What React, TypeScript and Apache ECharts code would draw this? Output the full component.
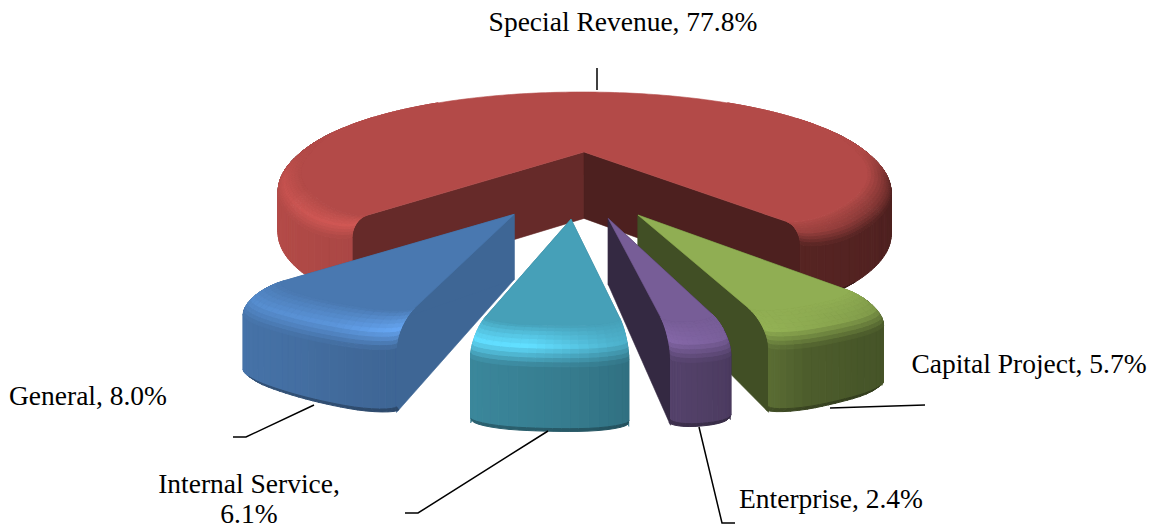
import React, { useEffect, useRef } from "react";
import * as echarts from "echarts";

// Fund shares, listed clockwise from the large slice
const categories = ["Special Revenue", "Capital Project", "Enterprise", "Internal Service", "General"];
const shares = [77.8, 5.7, 2.4, 6.1, 8.0];
const baseColors = ["#C0504D", "#9BBB59", "#8064A2", "#4BACC6", "#4F81BD"];

// Back to front: later slices overlap earlier ones
const paintOrder = [0, 4, 1, 2, 3];

// Label placement: centre x, centre y, wrapped onto two lines or not
const labelLayout = [
  { x: 623, y: 21, wrap: false },
  { x: 1029, y: 363, wrap: false },
  { x: 831, y: 498, wrap: false },
  { x: 249, y: 498, wrap: true },
  { x: 88, y: 395, wrap: false },
];
const leaderLines = [
  [[597, 68], [597, 90]],
  [[925, 405], [830, 408]],
  [[735, 523], [722, 523], [699, 427]],
  [[405, 513], [418, 513], [548, 431]],
  [[233, 437], [246, 437], [314, 405]],
];

// Camera, with the origin on the point of the large slice
const CX = 577;
const APEX_Y = 152;
const DEPTH = 3.28;
const TILT_W = 0.964;
const F_Y = 254.7;
const F_Z = 926;
const F_X = 961;

// Solid proportions for the large slice and for the pulled-out ones
const START_ANGLE = -137.5;
const EXPLODE = 0.345;
const mainSolid = { rx: 1, ry: 1, flat: 0.93, bevel: 0.05, h: 0.235, hOuter: 0.195, cornerDeg: 10, rimCut: 0.06, flatCut: 0.04, footCut: 0.06 };
const sideSolid = { rx: 0.865, ry: 0.74, flat: 0.89, bevel: 0.048, h: 0.187, hOuter: 0.187, cornerDeg: 7, rimCut: 0.03, flatCut: 0.04, footCut: 0.03 };

// Small extra turn (degrees) and sideways shift of each slice in its own plane
const sliceTurns = [0, 1.2, 1.2, 0, 0];
const sliceShifts = [0.0085, 0.017, 0.017, 0, -0.011];

// Wall brightness at the first and last clockwise cut of each slice
const wallTones = [
  [0.53, 0.4],
  [0.42, 0.42],
  [0.41, 0.41],
  [0.7, 0.7],
  [0.79, 0.79],
];
const TOP_TONE = 0.93;

const rad = (d: number) => (d * Math.PI) / 180;

function lookup(stops: number[][], v: number) {
  if (v <= stops[0][0]) return stops[0][1];
  for (let i = 1; i < stops.length; i++) {
    if (v <= stops[i][0]) {
      const t = (v - stops[i - 1][0]) / (stops[i][0] - stops[i - 1][0]);
      return stops[i - 1][1] + t * (stops[i][1] - stops[i - 1][1]);
    }
  }
  return stops[stops.length - 1][1];
}

const sideStops = [[-1, 0.95], [-0.5, 0.86], [0, 0.72], [0.25, 0.6], [0.35, 0.5], [0.5, 0.46], [1, 0.4]];
const glowStops = [[-1, 1.02], [-0.7, 1.08], [-0.4, 1.15], [-0.25, 1.28], [-0.1, 1.3], [0.1, 1.05], [0.25, 0.96], [0.5, 0.86], [1, 0.62]];

function shade(hex: string, m: number) {
  const n = parseInt(hex.slice(1), 16);
  const ch = [(n >> 16) & 255, (n >> 8) & 255, n & 255].map((c) => Math.min(255, Math.round(c * m)));
  return `rgb(${ch[0]},${ch[1]},${ch[2]})`;
}

function project(x: number, y: number, z: number): number[] {
  const yy = y - EXPLODE;
  const w = DEPTH + TILT_W * yy;
  return [CX + (F_X * x) / w, APEX_Y - (F_Y * yy + F_Z * z) / w];
}

function signedArea(points: number[][]) {
  let a = 0;
  for (let i = 0; i < points.length; i++) {
    const p = points[i];
    const q = points[(i + 1) % points.length];
    a += p[0] * q[1] - q[0] * p[1];
  }
  return a;
}

function wedgeSpans() {
  let a = START_ANGLE;
  return shares.map((s, i) => {
    const span = (s / 100) * 360;
    const out = { start: a + sliceTurns[i], end: a + span + sliceTurns[i] };
    a += span;
    return out;
  });
}

function buildSlice(index: number) {
  const { start, end } = wedgeSpans()[index];
  const solid = index === 0 ? mainSolid : sideSolid;
  const mid = (start + end) / 2;
  const color = baseColors[index];
  const ox = EXPLODE * Math.sin(rad(mid)) + sliceShifts[index];
  const oy = EXPLODE * Math.cos(rad(mid));
  const span = end - start;
  const corner = Math.min(solid.cornerDeg, span * 0.46);

  // Angular samples: dense close to the rounded corners
  const samples: number[] = [];
  const cornerSteps = 8;
  for (let i = 0; i < cornerSteps; i++) samples.push(start + corner * (1 - Math.cos(rad((90 * i) / cornerSteps))));
  const midStart = start + corner;
  const midEnd = end - corner;
  const midCount = Math.max(1, Math.ceil((midEnd - midStart) / 1.25));
  for (let i = 0; i <= midCount; i++) samples.push(midStart + ((midEnd - midStart) * i) / midCount);
  for (let i = cornerSteps - 1; i >= 0; i--) samples.push(end - corner * (1 - Math.cos(rad((90 * i) / cornerSteps))));

  const cut = (theta: number, depth: number) => {
    const d = Math.min(theta - start, end - theta);
    if (d >= corner) return 1;
    const u = 1 - d / corner;
    return 1 - depth * (1 - Math.sqrt(Math.max(0, 1 - u * u)));
  };

  const place = (theta: number, r: number, z: number) =>
    project(ox + solid.rx * r * Math.sin(rad(theta)), oy + solid.ry * r * Math.cos(rad(theta)), z);

  // The flat top reaches the rim at the far side of the solid
  const flatAt = (theta: number) => solid.flat + (1 - solid.flat) * Math.max(0, Math.cos(rad(theta)));

  // A point of the bevel at a level (0 = flat top edge, 1 = rim)
  const ringPoint = (theta: number, level: number, z: number) => {
    const flatR = flatAt(theta) * cut(theta, solid.flatCut);
    const rimR = cut(theta, solid.rimCut);
    return place(theta, flatR + (rimR - flatR) * Math.sin((level * Math.PI) / 2), z);
  };
  const footPoint = (theta: number, z: number, shrink = 1) => place(theta, cut(theta, solid.footCut) * shrink, z);

  const LEVELS = 10;
  const levelZ = (l: number) => -solid.bevel * (1 - Math.cos((l * Math.PI) / 2));

  const under: any[] = [];
  const walls: any[] = [];
  const faces: any[] = [];
  const poly = (layer: any[], points: number[][], fill: string, lineWidth = 1) =>
    layer.push({ type: "polygon", silent: true, shape: { points }, style: { fill, stroke: fill, lineWidth } });
  const nearWallFill = (theta: number) =>
    shade(color, wallTones[index][theta - start < end - theta ? 0 : 1]);
  // Faces turned away from the viewer only backfill the corners
  const facePoly = (points: number[][], fill: string, theta: number) => {
    if (signedArea(points) < 0) poly(faces, points, fill);
    else if (Math.cos(rad(theta)) < 0.3) poly(under, points, nearWallFill(theta));
  };

  const apexTop = project(ox, oy, 0);
  const apexLow = project(ox, oy, -solid.h);
  const footZ = -solid.hOuter;
  const edgeZ = footZ + 0.012;

  // Cut walls, following the rounded profile of the bevel
  [start, end].forEach((theta, k) => {
    const profile: number[][] = [];
    for (let l = 0; l <= LEVELS; l++) profile.push(ringPoint(theta, l / LEVELS, levelZ(l / LEVELS)));
    poly(
      walls,
      [apexTop, ...profile, footPoint(theta, footZ), apexLow],
      shade(color, wallTones[index][k]),
      0.6,
    );
  });

  // Outer side
  for (let i = 0; i < samples.length - 1; i++) {
    const a = samples[i];
    const b = samples[i + 1];
    const m = (a + b) / 2;
    const tone = lookup(sideStops, Math.sin(rad(m)));
    facePoly(
      [ringPoint(a, 1, -solid.bevel), ringPoint(b, 1, -solid.bevel), footPoint(b, edgeZ), footPoint(a, edgeZ)],
      shade(color, tone),
      m,
    );
    const rimBand = [footPoint(a, edgeZ), footPoint(b, edgeZ), footPoint(b, footZ, 0.985), footPoint(a, footZ, 0.985)];
    if (signedArea(rimBand) < 0) poly(faces, rimBand, shade(color, tone * 0.72));
  }

  // Rounded bevel between the flat top and the side
  for (let i = 0; i < samples.length - 1; i++) {
    const a = samples[i];
    const b = samples[i + 1];
    const m = (a + b) / 2;
    const s = Math.sin(rad(m));
    const c = Math.cos(rad(m));
    const facing = Math.min(1, Math.max(0, (0.05 - c) / 0.3));
    const side = lookup(sideStops, s);
    const glow = TOP_TONE + (lookup(glowStops, s) - TOP_TONE) * facing;
    const rimTone = TOP_TONE + (side - TOP_TONE) * facing;
    for (let l = 0; l < LEVELS; l++) {
      const l0 = l / LEVELS;
      const l1 = (l + 1) / LEVELS;
      const lc = (l0 + l1) / 2;
      const tone = lc < 0.55 ? TOP_TONE + (glow - TOP_TONE) * (lc / 0.55) : glow + (rimTone - glow) * ((lc - 0.55) / 0.45);
      facePoly(
        [ringPoint(a, l0, levelZ(l0)), ringPoint(b, l0, levelZ(l0)), ringPoint(b, l1, levelZ(l1)), ringPoint(a, l1, levelZ(l1))],
        shade(color, tone),
        m,
      );
    }
  }

  // Flat top
  poly(faces, [apexTop, ...samples.map((t) => ringPoint(t, 0, 0))], shade(color, TOP_TONE), 0.6);

  return { type: "group", children: [...under, ...walls, ...faces] };
}

function labelText(i: number) {
  const sep = labelLayout[i].wrap ? ",\n" : ", ";
  return `${categories[i]}${sep}${shares[i].toFixed(1)}%`;
}

export default function App() {
  const ref = useRef<HTMLDivElement>(null);
  useEffect(() => {
    const chart = echarts.init(ref.current!, undefined, { renderer: "svg" });
    chart.setOption({
      animation: false,
      backgroundColor: "#ffffff",
      series: [
        {
          type: "custom",
          coordinateSystem: "none",
          silent: true,
          data: paintOrder.map((i) => [i]),
          renderItem: (_params: any, api: any) => buildSlice(api.value(0)),
        },
      ],
      graphic: [
        ...leaderLines.map((points) => ({
          type: "polyline",
          silent: true,
          shape: { points },
          style: { stroke: "#000000", lineWidth: 1.5, fill: "none" },
          z: 10,
        })),
        ...categories.map((_, i) => ({
          type: "text",
          silent: true,
          x: labelLayout[i].x,
          y: labelLayout[i].y,
          style: {
            text: labelText(i),
            fill: "#000000",
            font: '27.5px "Liberation Serif"',
            lineHeight: 30,
            align: "center",
            verticalAlign: "middle",
          },
          z: 10,
        })),
      ],
    });
    return () => chart.dispose();
  }, []);
  return <div ref={ref} style={{ position: "absolute", left: 0, top: 0, width: 1152, height: 529 }} />;
}
